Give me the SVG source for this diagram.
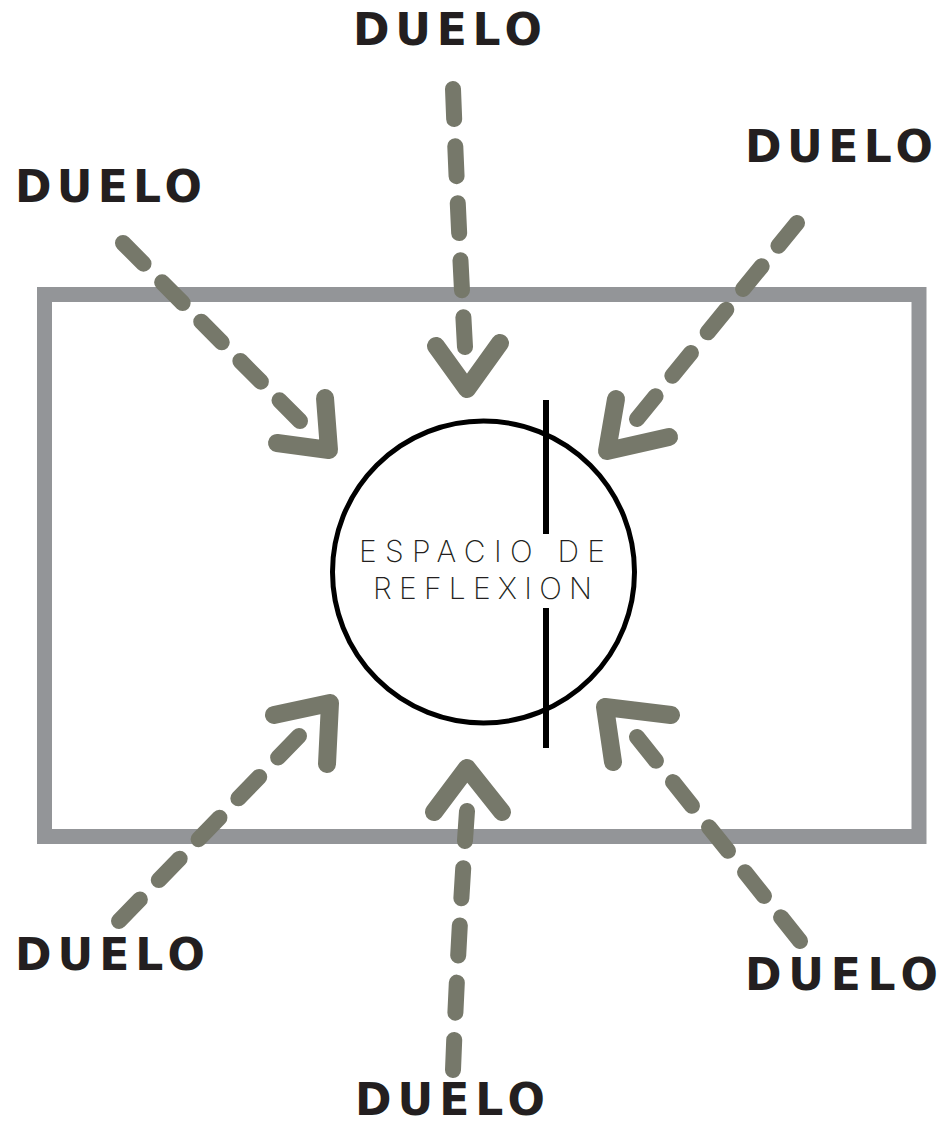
<svg xmlns="http://www.w3.org/2000/svg" width="945" height="1124" viewBox="0 0 945 1124">
<style>
.lbl{font-family:"DejaVu Sans","Liberation Sans",sans-serif;font-weight:bold;font-size:44px;fill:#231f20}
.inner{font-family:Inter,"Liberation Sans",sans-serif;font-weight:200;font-size:30px;fill:#231f20}
.dash{fill:none;stroke:#76786a;stroke-width:16;stroke-linecap:round;stroke-dasharray:11.6 10.5}
.head{fill:none;stroke:#76786a;stroke-width:18;stroke-linecap:round;stroke-linejoin:round}
</style>
<rect width="945" height="1124" fill="#fff"/>
<g id="frame">
<rect x="44.5" y="294.5" width="874.5" height="542" fill="none" stroke="#939598" stroke-width="15"/>
</g>
<g id="connectors">
<path class="dash" pathLength="100" d="M123,243 L300,421"/>
<path class="head" d="M325,398 L329,450 L277,443"/>
<path class="dash" pathLength="100" d="M453,89 Q458,220 465,347"/>
<path class="head" d="M436,346 L467,389 L500,343"/>
<path class="dash" pathLength="100" d="M797,223 L637,419"/>
<path class="head" d="M616,399 L607,451 L669,437"/>
<path class="dash" pathLength="100" d="M119,921 L299,736"/>
<path class="head" d="M327,764 L330,703 L274,715"/>
<path class="dash" pathLength="100" d="M467,811 Q458,940 453,1070"/>
<path class="head" d="M434,812 L467,768 L502,812"/>
<path class="dash" pathLength="100" d="M637,737 L800,941"/>
<path class="head" d="M613,762 L605,707 L671,715"/>
</g>
<g id="center">
<circle cx="483.5" cy="572" r="151" fill="none" stroke="#000" stroke-width="5"/>
<line x1="546" y1="400" x2="546" y2="534" stroke="#000" stroke-width="6"/>
<line x1="546" y1="608" x2="546" y2="748" stroke="#000" stroke-width="6"/>
<text class="inner" x="359" y="562" textLength="246" lengthAdjust="spacing">ESPACIO DE</text>
<text class="inner" x="373" y="599" textLength="219" lengthAdjust="spacing">REFLEXION</text>
</g>
<g id="duelo-top"><text class="lbl" x="353" y="45" textLength="189" lengthAdjust="spacing">DUELO</text></g>
<g id="duelo-left"><text class="lbl" x="15" y="202" textLength="187" lengthAdjust="spacing">DUELO</text></g>
<g id="duelo-right"><text class="lbl" x="745" y="162" textLength="188" lengthAdjust="spacing">DUELO</text></g>
<g id="duelo-bottom-left"><text class="lbl" x="15" y="970" textLength="190" lengthAdjust="spacing">DUELO</text></g>
<g id="duelo-bottom-right"><text class="lbl" x="745" y="990" textLength="193" lengthAdjust="spacing">DUELO</text></g>
<g id="duelo-bottom"><text class="lbl" x="355" y="1115" textLength="190" lengthAdjust="spacing">DUELO</text></g>
</svg>
